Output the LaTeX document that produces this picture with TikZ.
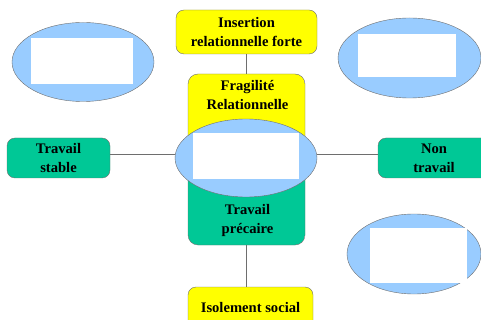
\documentclass[tikz,border=0pt]{standalone}
\usepackage{fontspec}
\setmainfont{Liberation Serif}
\usetikzlibrary{shapes.geometric}
\definecolor{jaune}{HTML}{FFFF00}
\definecolor{vert}{HTML}{00C896}
\definecolor{bleu}{HTML}{99CCFF}
\definecolor{trait}{HTML}{6E6E6E}
\begin{document}
\begin{tikzpicture}[x=1pt,y=-1pt,inner sep=0pt,outer sep=0pt,
txt/.style={font=\bfseries\fontsize{14.6}{19}\selectfont,align=center},
boite/.style={draw=trait,rectangle,rounded corners=8pt,thin,txt},
bulle/.style={draw=trait,ellipse,fill=bleu,thin},
blanc/.style={fill=white,rectangle},
lien/.style={draw=trait,thin}]
\useasboundingbox (0,0) rectangle (481,320);
\clip (0,0) rectangle (481,320);
% boites
\draw (246.5,32) node[boite,fill=jaune,minimum width=141pt,minimum height=44pt] (insertion) {Insertion\\relationnelle forte};
\draw (246.5,159.5) node[boite,rounded corners=10pt,minimum width=117pt,minimum height=171pt,
  path picture={\fill[jaune] (path picture bounding box.north west) rectangle (path picture bounding box.east);
  \fill[vert] (path picture bounding box.west) rectangle (path picture bounding box.south east);}] (centre) {};
\draw (247.5,95) node[txt] (fragile) {Fragilité\\Relationnelle};
\draw (247.5,220) node[txt] (precaire) {Travail\\précaire};
\draw (58.5,158) node[boite,fill=vert,minimum width=103pt,minimum height=40pt] (stable) {Travail\\stable};
\draw (434,158) node[boite,fill=vert,minimum width=112pt,minimum height=40pt] (nontravail) {Non\\travail};
\draw (250.5,308) node[boite,fill=jaune,minimum width=125pt,minimum height=42pt] (isolement) {Isolement social};
% bulles
\draw (246,158) node[bulle,minimum width=142pt,minimum height=78pt] (coeur) {};
\draw (246,156) node[blanc,minimum width=106pt,minimum height=46pt] (coeurtxt) {};
\draw (83,62) node[bulle,minimum width=142pt,minimum height=79pt] (bullehg) {};
\draw (82,61) node[blanc,minimum width=102pt,minimum height=46pt] (bullehgtxt) {};
\draw (409.5,58) node[bulle,minimum width=143pt,minimum height=80pt] (bullehd) {};
\draw (407,55.5) node[blanc,minimum width=98pt,minimum height=43pt] (bullehdtxt) {};
\draw (414,254) node[bulle,minimum width=134pt,minimum height=80pt] (bullebd) {};
\draw (418.5,255.5) node[blanc,minimum width=97pt,minimum height=55pt] (bullebdtxt) {};
% liens
\draw[lien] (insertion.south) -- (insertion.south |- centre.north);
\draw[lien] (centre.south -| insertion.south) -- (insertion.south |- isolement.north);
\draw[lien] ([yshift=4pt]stable.east) -- ([yshift=4pt]stable.east -| coeur.west);
\draw[lien] ([yshift=4pt]nontravail.west) -- ([yshift=4pt]nontravail.west -| coeur.east);
\end{tikzpicture}
\end{document}
